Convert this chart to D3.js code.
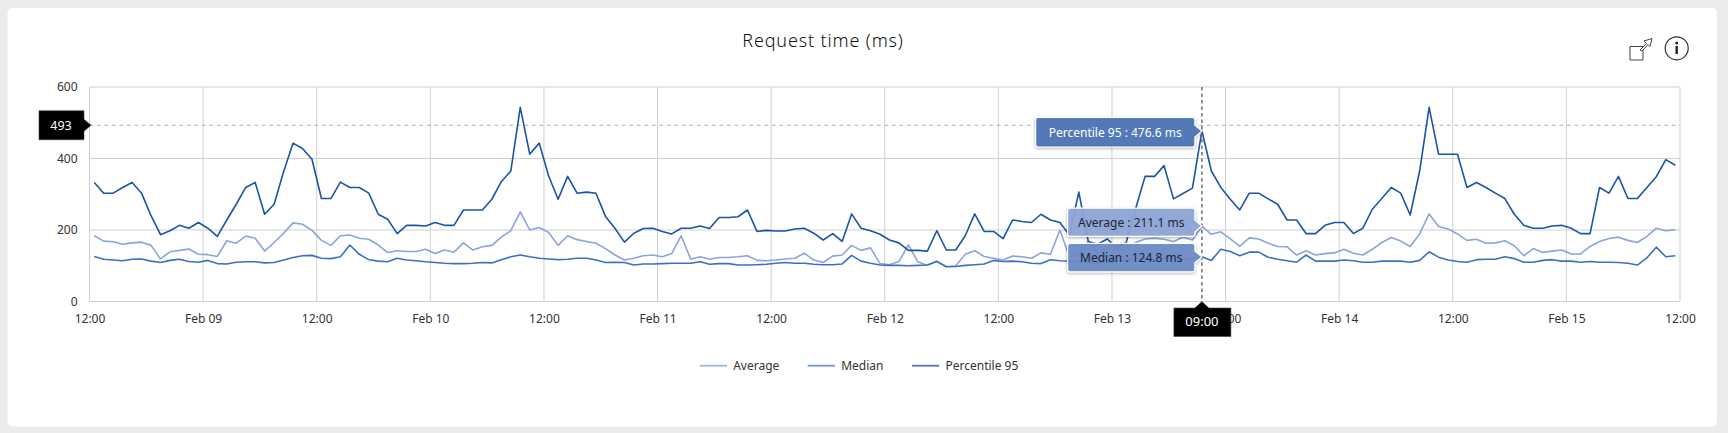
<!DOCTYPE html>
<html>
<head>
<meta charset="utf-8">
<script src="https://cdnjs.cloudflare.com/ajax/libs/d3/7.8.5/d3.min.js"></script>
<style>
  html, body { margin: 0; padding: 0; background: #ebebeb; }
  svg { display: block; font-family: "Noto Sans", sans-serif; }
  .tick text { font-size: 12px; fill: #333; }
  .grid line { stroke: #d0d0d0; }
</style>
</head>
<body>
<svg id="chart" width="1728" height="433"></svg>
<script>
// values, one per hour from Feb 08 12:00
const average = [184,169,167,160,164,166,157,119,139,143,147,132,131,126,170,163,183,177,141,165,191,220,216,199,171,157,184,186,177,174,158,137,142,140,140,146,134,144,
  138,164,144,153,157,180,198,251,200,207,193,157,184,173,168,163,148,130,116,121,128,130,125,134,184,118,125,118,123,123,125,128,115,114,116,119,121,135,116,109,127,130,157,143,150,106,103,
  112,158,111,101,113,98,100,132,142,126,121,116,127,125,121,136,132,200,125,130,170,135,150,145,150,165,175,177,174,168,180,172,211,188,195,175,154,178,175,163,154,
  153,130,142,130,134,136,146,135,130,146,165,179,169,154,189,245,210,203,189,171,174,163,164,170,156,128,148,137,141,144,133,133,154,168,176,180,171,165,182,205,198,201];
const median = [126,118,116,114,118,119,113,109,115,118,112,110,115,106,105,110,111,111,108,109,116,123,128,129,121,120,125,158,132,117,113,111,121,116,114,111,109,107,
  106,106,107,109,108,117,125,130,125,121,119,117,118,121,121,116,109,110,109,102,105,105,106,107,107,107,111,104,106,106,102,102,103,104,107,109,107,107,104,103,103,105,129,113,107,102,101,
  101,100,101,102,112,97,98,101,103,105,115,112,113,111,107,106,117,114,113,110,108,108,110,112,115,118,120,118,122,120,118,119,125,115,146,140,128,138,138,124,118,
  114,110,130,113,113,113,116,114,110,110,113,113,113,110,115,139,124,116,112,110,117,118,118,125,120,110,110,115,117,113,113,110,112,110,110,109,107,102,122,152,125,128];
const percentile95 = [333,303,303,319,333,303,240,187,198,213,205,221,205,182,228,272,319,333,244,272,363,443,428,398,288,288,334,319,319,303,244,230,190,213,213,211,221,213,
  213,256,256,256,286,335,365,543,412,443,351,286,350,303,306,303,238,205,166,191,204,205,196,189,205,205,211,204,235,235,237,256,196,199,197,197,203,205,191,172,190,168,245,205,198,188,172,
  164,143,143,141,198,144,144,184,245,196,196,176,228,224,221,244,228,221,186,306,168,160,175,150,165,260,350,350,380,287,302,317,477,365,319,286,256,303,303,287,272,
  228,228,190,190,213,221,221,190,205,258,288,319,303,242,365,543,412,412,412,319,333,319,303,288,244,213,205,205,211,213,205,190,190,319,303,350,288,288,319,349,397,381];

const seriesNames = ["Average", "Median", "Percentile 95"];
const seriesColors = ["#8aa5dc", "#3d70c2", "#1b55a6"];
const legendColors = ["#9db4e0", "#7596d2", "#5478bd"];
const yTicks = [0, 200, 400, 600];

const thresholdValue = 493;
const hoverIndex = 117;
const hoverLabel = "09:00";
const hoverValues = [211.1, 124.8, 476.6];

const M = { left: 89.5, right: 48, top: 87, bottom: 131.5 };
const W = 1728 - M.left - M.right;
const H = 433 - M.top - M.bottom;

const START = Date.UTC(2023, 1, 8, 12);
const END = Date.UTC(2023, 1, 15, 12);
const x = d3.scaleUtc().domain([START, END]).range([0, W]);
const y = d3.scaleLinear().domain([0, 600]).range([H, 0]);
// points sit in the middle of their hour
const xAt = i => x(START + (i + 0.5) * 3600000);

const svg = d3.select("#chart");

const defs = svg.append("defs");
defs.append("filter").attr("id", "shadow")
  .attr("x", "-10%").attr("y", "-20%").attr("width", "120%").attr("height", "150%")
  .append("feDropShadow")
  .attr("dx", 0).attr("dy", 1).attr("stdDeviation", 1.5)
  .attr("flood-color", "#000").attr("flood-opacity", 0.35);

// card
svg.append("rect")
  .attr("x", 7.5).attr("y", 8).attr("width", 1709.5).attr("height", 418.5)
  .attr("rx", 5).attr("fill", "#fff");

svg.append("text")
  .attr("x", 823).attr("y", 47)
  .attr("text-anchor", "middle")
  .attr("font-size", 18).attr("font-weight", 300).attr("letter-spacing", 0.85).attr("fill", "#111")
  .text("Request time (ms)");

// export icon
const share = svg.append("g").attr("fill", "none").attr("stroke", "#444").attr("stroke-width", 1);
share.append("path").attr("d", "M1643 46.5H1630V60H1643Z").attr("fill", "#fff");
share.append("path").attr("d", "M1640 50L1646.5 43.5L1644 41L1652 38.5L1650 46.5L1648 44.5L1642 51Z").attr("fill", "#fff");
// info icon
svg.append("circle").attr("cx", 1676.7).attr("cy", 48.3).attr("r", 11.5)
  .attr("fill", "none").attr("stroke", "#333").attr("stroke-width", 1.2);
svg.append("circle").attr("cx", 1676.7).attr("cy", 43).attr("r", 1.5).attr("fill", "#222");
svg.append("rect").attr("x", 1675.5).attr("y", 46).attr("width", 2.4).attr("height", 8).attr("fill", "#222");

const g = svg.append("g").attr("transform", `translate(${M.left},${M.top})`);

// grid
const xTicks = d3.utcHour.every(12).range(START, END + 1);
const grid = g.append("g").attr("class", "grid");
grid.selectAll("line.v").data(xTicks).join("line").attr("class", "v")
  .attr("x1", d => x(d)).attr("x2", d => x(d)).attr("y1", 0).attr("y2", H);
grid.selectAll("line.h").data(d3.range(0, 601, 200)).join("line").attr("class", "h")
  .attr("x1", 0).attr("x2", W).attr("y1", d => y(d)).attr("y2", d => y(d));

// axes
const fmtDay = d3.utcFormat("%b %d");
const fmtHour = d3.utcFormat("%H:%M");
const gX = g.append("g").attr("transform", `translate(0,${H})`)
  .call(d3.axisBottom(x).tickValues(xTicks).tickSize(0).tickPadding(13)
    .tickFormat(d => d.getUTCHours() === 0 ? fmtDay(d) : fmtHour(d)));
gX.select(".domain").remove();
const gY = g.append("g")
  .call(d3.axisLeft(y).tickValues(yTicks).tickSize(0).tickPadding(12));
gY.select(".domain").remove();
gX.attr("font-family", null);
gY.attr("font-family", null);

// threshold line
g.append("line")
  .attr("x1", 0).attr("x2", W).attr("y1", y(thresholdValue)).attr("y2", y(thresholdValue))
  .attr("stroke", "#aaa").attr("stroke-width", 1.2).attr("stroke-dasharray", "3.5,4");

// series
const line = d3.line().x((d, i) => xAt(i)).y(d => y(d));
[average, median, percentile95].forEach((values, k) => {
  g.append("path")
    .datum(values)
    .attr("fill", "none")
    .attr("stroke", seriesColors[k])
    .attr("stroke-width", 1.6)
    .attr("stroke-linejoin", "round")
    .attr("d", line);
});

// crosshair
g.append("line")
  .attr("x1", xAt(hoverIndex)).attr("x2", xAt(hoverIndex)).attr("y1", 0).attr("y2", H)
  .attr("stroke", "#666").attr("stroke-width", 1.4).attr("stroke-dasharray", "3.5,3");

// threshold label
const yLab = y(thresholdValue);
g.append("path")
  .attr("d", `M-50.5 ${yLab - 14.5}H-5.5V${yLab - 6}L1.5 ${yLab}L-5.5 ${yLab + 6}V${yLab + 14.5}H-50.5Z`)
  .attr("fill", "#000").attr("stroke", "#444").attr("stroke-width", 0.6);
g.append("text")
  .attr("x", -28.5).attr("y", yLab + 4.5).attr("text-anchor", "middle")
  .attr("font-size", 12.5).attr("fill", "#fff").text(thresholdValue);

// hover time label
const xHover = xAt(hoverIndex);
g.append("path")
  .attr("d", `M${xHover - 28} ${H + 6.5}H${xHover - 7}L${xHover} ${H}L${xHover + 7} ${H + 6.5}H${xHover + 29}V${H + 35}H${xHover - 28}Z`)
  .attr("fill", "#000").attr("stroke", "#444").attr("stroke-width", 0.6);
g.append("text")
  .attr("x", xHover).attr("y", H + 24.5).attr("text-anchor", "middle")
  .attr("font-size", 13).attr("fill", "#fff").text(hoverLabel);

// hover tooltips
const tipFill = ["#8ea6d6", "#6d8bc6", "#4c73b5"];
const tipText = ["#1c2536", "#1c2536", "#fff"];
const tipWidth = [127.3, 127.3, 159.3];
const tipAbove = [18, 13.5, 13.7];
const tipHeight = [28.4, 28.4, 29.6];
[2, 0, 1].forEach(k => {
  const tipY = y(hoverValues[k]);
  const right = xHover - 7;
  const left = right - tipWidth[k];
  const top = tipY - tipAbove[k];
  const h = tipHeight[k];
  const r = 2.5;
  const d = `M${left + r} ${top}H${right - r}Q${right} ${top} ${right} ${top + r}V${tipY - 6}L${xHover} ${tipY}L${right} ${tipY + 6}V${top + h - r}Q${right} ${top + h} ${right - r} ${top + h}H${left + r}Q${left} ${top + h} ${left} ${top + h - r}V${top + r}Q${left} ${top} ${left + r} ${top}Z`;
  g.append("path").attr("d", d)
    .attr("fill", tipFill[k]).attr("fill-opacity", 0.93)
    .attr("stroke", "#fff").attr("stroke-width", 1.2)
    .attr("filter", "url(#shadow)");
  g.append("text")
    .attr("x", (left + right) / 2).attr("y", top + h / 2 + 4.5)
    .attr("text-anchor", "middle").attr("font-size", 12).attr("fill", tipText[k])
    .text(`${seriesNames[k]} : ${hoverValues[k]} ms`);
});

// legend
const legendX = [699.7, 807.7, 912];
const legend = svg.append("g").selectAll("g").data(seriesNames).join("g")
  .attr("transform", (d, i) => `translate(${legendX[i]},365.7)`);
legend.append("line").attr("x1", 0).attr("x2", 27.3)
  .attr("stroke", (d, i) => legendColors[i]).attr("stroke-width", 1.8);
legend.append("text").attr("x", 33.5).attr("y", 4.5)
  .attr("font-size", 12).attr("fill", "#333").text(d => d);
</script>
</body>
</html>
